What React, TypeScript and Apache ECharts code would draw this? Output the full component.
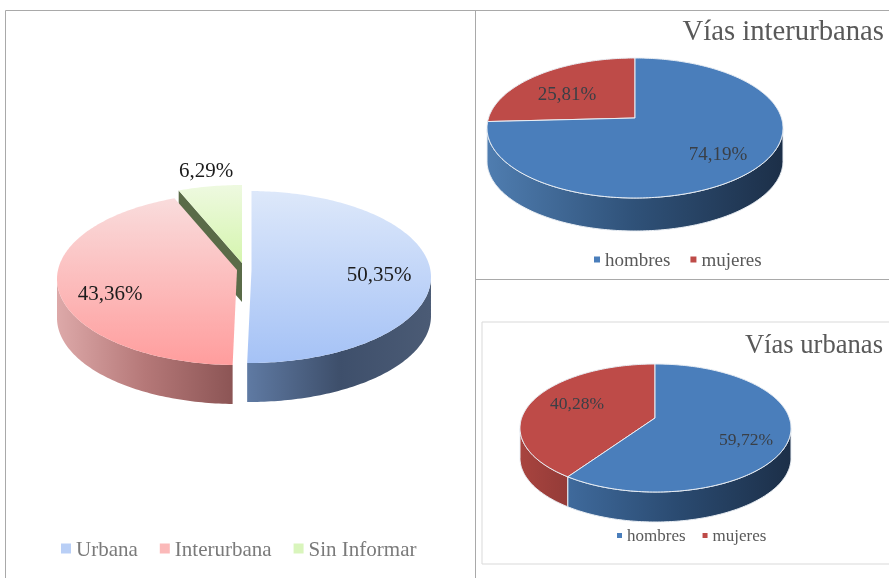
import React, { useEffect, useRef } from "react";
import * as echarts from "echarts";

const mainNames = ["Urbana", "Interurbana", "Sin Informar"];
const mainValues = [50.35, 43.36, 6.29];
const genderNames = ["hombres", "mujeres"];
const interurbanValues = [74.19, 25.81];
const urbanValues = [59.72, 40.28];

const SERIF = "'Liberation Serif', 'Times New Roman', serif";
const grad = (x2: number, y2: number, stops: string[]) =>
  new echarts.graphic.LinearGradient(
    0, 0, x2, y2,
    stops.map((color, i) => ({ offset: i / (stops.length - 1), color }))
  );
const fmt = (v: number) => v.toFixed(2).replace(".", ",") + "%";

const PIES = [
  {
    names: mainNames, values: mainValues, depth: 39, fontSize: 21, labelColor: "#1c1c1c", stroke: "none",
    slices: [
      { index: 0, g: { ax: 251.5, ay: 270, cx: 249, cy: 277, rx: 182, ry: 86 }, label: [379, 274],
        top: ["#DDE8FA", "#A5C2F6"], side: ["#5F7AA3", "#3E4F6B", "#4B5B75"], legend: "#B9CFF6" },
      { index: 1, g: { ax: 237, ay: 270, cx: 237, cy: 279, rx: 180, ry: 86 }, label: [110, 293],
        top: ["#F9DCDC", "#FF9D9D"], side: ["#DDA9A9", "#B57878", "#8C5555"], legend: "#FBB9B9" },
      { index: 2, g: { ax: 242, ay: 263, cx: 242, cy: 271, rx: 180, ry: 86 }, label: [206, 170],
        top: ["#EEF9E0", "#D5F5AE"], side: ["#5A6B48", "#5A6B48"], legend: "#D9F5BC", cut: "#5A6B48" },
    ],
    order: [2, 1, 0],
  },
  {
    names: genderNames, values: interurbanValues, depth: 33, fontSize: 19, labelColor: "#3a3f46", stroke: "#E9EEF4",
    slices: [
      { index: 0, g: { ax: 635, ay: 118, cx: 635, cy: 128, rx: 148, ry: 70 }, label: [718, 153],
        top: ["#4A7EBB", "#4A7EBB"], side: ["#4F7DB0", "#2F5178", "#1C2F48"], legend: "#4A7EBB" },
      { index: 1, g: { ax: 635, ay: 118, cx: 635, cy: 128, rx: 148, ry: 70 }, label: [567, 93],
        top: ["#BE4B48", "#BE4B48"], side: ["#A8443F", "#8F3B38"], legend: "#BE4B48" },
    ],
    order: [1, 0],
  },
  {
    names: genderNames, values: urbanValues, depth: 30, fontSize: 17.5, labelColor: "#3a3f46", stroke: "#E9EEF4",
    slices: [
      { index: 0, g: { ax: 655, ay: 418, cx: 655.5, cy: 428, rx: 135.5, ry: 64 }, label: [746, 439],
        top: ["#4A7EBB", "#4A7EBB"], side: ["#3F6A9C", "#2A4A70", "#1C2F48"], legend: "#4A7EBB" },
      { index: 1, g: { ax: 655, ay: 418, cx: 655.5, cy: 428, rx: 135.5, ry: 64 }, label: [577, 403],
        top: ["#BE4B48", "#BE4B48"], side: ["#A8443F", "#943B38"], legend: "#BE4B48" },
    ],
    order: [1, 0],
  },
];

type G = { ax: number; ay: number; cx: number; cy: number; rx: number; ry: number };

// A point on the rim, reached by a ray from the slice's apex (the chart is drawn in perspective).
function rim(g: G, pct: number): number[] {
  const th = (pct / 100) * Math.PI * 2;
  const dx = Math.sin(th) * g.rx, dy = -Math.cos(th) * g.ry;
  const ox = g.ax - g.cx, oy = g.ay - g.cy;
  const a = (dx * dx) / (g.rx * g.rx) + (dy * dy) / (g.ry * g.ry);
  const b = 2 * ((ox * dx) / (g.rx * g.rx) + (oy * dy) / (g.ry * g.ry));
  const c = (ox * ox) / (g.rx * g.rx) + (oy * oy) / (g.ry * g.ry) - 1;
  const t = (-b + Math.sqrt(b * b - 4 * a * c)) / (2 * a);
  return [g.ax + dx * t, g.ay + dy * t];
}

function buildSeries() {
  const series: any[] = [];
  PIES.forEach((pie) => {
    const starts: number[] = [];
    pie.values.reduce((acc, v, i) => { starts[i] = acc; return acc + v; }, 0);
    pie.order.forEach((i) => {
      const s: any = pie.slices[i];
      series.push({
        type: "custom",
        name: pie.names[i],
        coordinateSystem: "none",
        silent: true,
        itemStyle: { color: s.legend },
        data: [[pie.values[i]]],
        renderItem: (_: any, api: any) => {
          const value = api.value(0);
          const from = starts[i], to = from + value;
          const g: G = s.g;
          const pts: number[][] = [];
          const n = Math.max(8, Math.ceil(value * 3.6));
          for (let k = 0; k <= n; k++) pts.push(rim(g, from + (value * k) / n));
          const children: any[] = [];
          if (s.cut) {
            const p = rim(g, from);
            children.push({
              type: "polygon",
              shape: { points: [p, [g.ax, g.ay], [g.ax, g.ay + pie.depth], [p[0], p[1] + pie.depth]] },
              style: { fill: s.cut },
            });
          }
          const lower = pts.filter((p) => p[1] >= g.cy);
          if (lower.length > 1) {
            const wall = lower.concat(lower.slice().reverse().map((p) => [p[0], p[1] + pie.depth]));
            children.push({
              type: "polygon",
              shape: { points: wall },
              style: { fill: grad(1, 0, s.side), stroke: pie.stroke, lineWidth: 1 },
            });
          }
          children.push({
            type: "polygon",
            shape: { points: [[g.ax, g.ay], ...pts] },
            style: { fill: grad(0, 1, s.top), stroke: pie.stroke, lineWidth: 1 },
          });
          children.push({
            type: "text",
            z2: 50,
            style: {
              text: fmt(value),
              x: s.label[0],
              y: s.label[1],
              align: "center",
              verticalAlign: "middle",
              fontSize: pie.fontSize,
              fontFamily: SERIF,
              fill: pie.labelColor,
            },
          });
          return { type: "group", children };
        },
      });
    });
  });
  return series;
}

const legendOf = (pie: any, left: number, top: number, size: number, iw: number, gap: number, color: string) => ({
  left, top,
  padding: 0,
  orient: "horizontal" as const,
  selectedMode: false,
  itemWidth: iw,
  itemHeight: iw,
  itemGap: gap,
  icon: "rect",
  textStyle: { fontFamily: SERIF, fontSize: size, color },
  data: pie.names.map((name: string, i: number) => ({
    name, icon: "rect", itemStyle: { color: pie.slices[i].legend },
  })),
});

const line = (x1: number, y1: number, x2: number, y2: number) => ({
  type: "line", silent: true, z: 0,
  shape: { x1, y1, x2, y2 },
  style: { stroke: "#A9A9A9", lineWidth: 1 },
});

export default function App() {
  const ref = useRef<HTMLDivElement>(null);
  useEffect(() => {
    const chart = echarts.init(ref.current!, undefined, { renderer: "svg" });
    chart.setOption({
      animation: false,
      backgroundColor: "#ffffff",
      title: [
        { text: "Vías interurbanas", right: 5, top: 15, padding: 0, textStyle: { fontFamily: SERIF, fontWeight: "normal", fontSize: 28.7, color: "#595959" } },
        { text: "Vías urbanas", right: 6, top: 330, padding: 0, textStyle: { fontFamily: SERIF, fontWeight: "normal", fontSize: 26.6, color: "#595959" } },
      ],
      legend: [
        legendOf(PIES[0], 61, 538, 21, 10, 22, "#7A7A7A"),
        legendOf(PIES[1], 594, 250, 19, 6, 20, "#595959"),
        legendOf(PIES[2], 617, 527, 17, 5, 17, "#595959"),
      ],
      graphic: [
        line(5.5, 10.5, 889, 10.5),
        line(5.5, 10.5, 5.5, 578),
        line(475.5, 10.5, 475.5, 578),
        line(475.5, 279.5, 889, 279.5),
        {
          type: "rect", silent: true, z: 0,
          shape: { x: 482, y: 322, width: 420, height: 242 },
          style: { fill: "none", stroke: "#D9D9D9", lineWidth: 1 },
        },
      ],
      series: buildSeries(),
    });
    return () => chart.dispose();
  }, []);
  return <div ref={ref} style={{ position: "fixed", left: 0, top: 0, width: 889, height: 578, filter: "blur(0.45px)" }} />;
}
